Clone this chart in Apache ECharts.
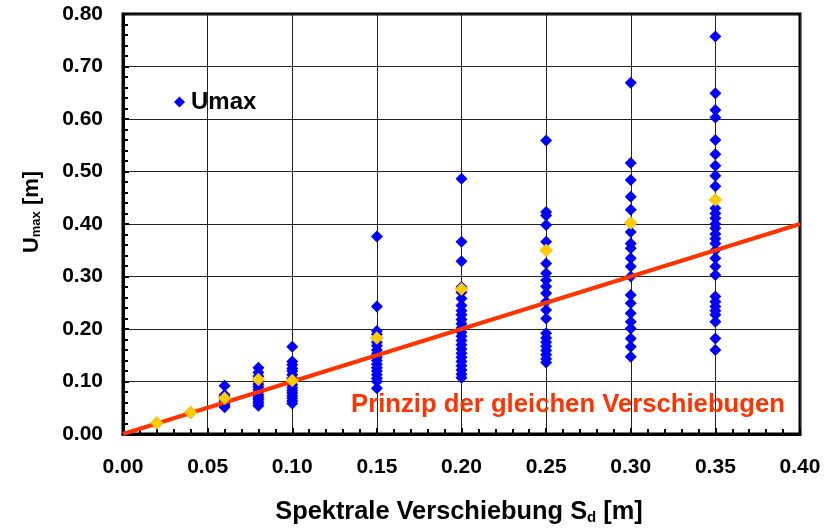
<!DOCTYPE html>
<html>
<head>
<meta charset="utf-8">
<script src="https://cdn.jsdelivr.net/npm/echarts@6/dist/echarts.min.js"></script>
<style>html,body{margin:0;padding:0;background:#fff;}#c{width:838px;height:530px;}</style>
</head>
<body>
<div id="c"></div>
<script>
// Sd values (x) of each column
const xCols = [0.02, 0.04, 0.06, 0.08, 0.10, 0.15, 0.20, 0.25, 0.30, 0.35];
// Umax values per column (blue points)
const u002 = [0.021];
const u004 = [0.041];
const u006 = [0.092, 0.075, 0.071, 0.067, 0.063, 0.060, 0.057, 0.054, 0.051];
const u008 = [0.126, 0.117, 0.110, 0.100, 0.095, 0.090, 0.085, 0.080, 0.075, 0.070, 0.066, 0.062, 0.058, 0.054];
const u010 = [0.166, 0.138, 0.132, 0.125, 0.120, 0.113, 0.106, 0.100, 0.094, 0.088, 0.083, 0.078, 0.073, 0.068, 0.063, 0.058];
const u015 = [0.376, 0.243, 0.196, 0.190, 0.182, 0.175, 0.168, 0.160, 0.153, 0.146, 0.140, 0.133, 0.126, 0.120, 0.113, 0.106, 0.100, 0.087];
const u020 = [0.486, 0.366, 0.329, 0.280, 0.270, 0.258, 0.245, 0.235, 0.227, 0.218, 0.210, 0.202, 0.194, 0.186, 0.178, 0.170, 0.162, 0.154, 0.146, 0.138, 0.130, 0.122, 0.114, 0.107];
const u025 = [0.559, 0.423, 0.416, 0.398, 0.366, 0.325, 0.306, 0.293, 0.281, 0.268, 0.252, 0.236, 0.220, 0.192, 0.183, 0.175, 0.167, 0.159, 0.151, 0.143, 0.136];
const u030 = [0.669, 0.516, 0.484, 0.452, 0.427, 0.385, 0.363, 0.354, 0.335, 0.319, 0.300, 0.265, 0.249, 0.230, 0.214, 0.201, 0.182, 0.166, 0.147];
const u035 = [0.757, 0.649, 0.617, 0.603, 0.560, 0.533, 0.511, 0.492, 0.472, 0.430, 0.420, 0.411, 0.400, 0.392, 0.381, 0.372, 0.363, 0.350, 0.335, 0.319, 0.303, 0.262, 0.252, 0.243, 0.235, 0.227, 0.214, 0.182, 0.160];
const uCols = [u002, u004, u006, u008, u010, u015, u020, u025, u030, u035];
// mean values (yellow points)
const uMean = [0.021, 0.041, 0.068, 0.104, 0.102, 0.183, 0.276, 0.350, 0.402, 0.446];
// equal displacement line
const lineX = [0.0, 0.4];
const lineY = [0.0, 0.4];

const bluePts = [];
xCols.forEach((x, i) => uCols[i].forEach(v => bluePts.push([x, v])));
const yellowPts = xCols.map((x, i) => [x, uMean[i]]);
const linePts = lineX.map((x, i) => [x, lineY[i]]);

const FONT = '"Liberation Sans", Arial, sans-serif';
const chart = echarts.init(document.getElementById('c'), null, {renderer: 'canvas'});
chart.setOption({
  animation: false,
  backgroundColor: '#fff',
  grid: {left: 123, right: 38, top: 14, bottom: 96, show: true, borderColor: '#000', borderWidth: 3},
  legend: {
    data: ['Umax'], left: 169, top: 85, icon: 'diamond', itemWidth: 11, itemHeight: 11,
    textStyle: {fontFamily: FONT, fontWeight: 'bold', fontSize: 24, color: '#000', padding: [0, 0, 0, 1]}
  },
  xAxis: {
    type: 'value', min: 0, max: 0.4, interval: 0.05,
    axisLine: {show: true, onZero: false, lineStyle: {color: '#000', width: 3}},
    axisTick: {show: true, inside: true, length: 6, lineStyle: {color: '#000', width: 2}},
    minorTick: {show: true, splitNumber: 5, length: 5, lineStyle: {color: '#000', width: 2}},
    splitLine: {show: true, lineStyle: {color: '#222', width: 1}},
    axisLabel: {margin: 23, fontFamily: FONT, fontWeight: 'bold', fontSize: 21, color: '#000',
      formatter: v => v.toFixed(2)}
  },
  yAxis: {
    type: 'value', min: 0, max: 0.8, interval: 0.1,
    axisLine: {show: true, onZero: false, lineStyle: {color: '#000', width: 3}},
    axisTick: {show: true, inside: true, length: 6, lineStyle: {color: '#000', width: 2}},
    minorTick: {show: true, splitNumber: 5, length: 5, lineStyle: {color: '#000', width: 2}},
    splitLine: {show: true, lineStyle: {color: '#222', width: 1}},
    axisLabel: {margin: 20, fontFamily: FONT, fontWeight: 'bold', fontSize: 21, color: '#000',
      formatter: v => v.toFixed(2)}
  },
  graphic: [
    {type: 'text', x: 351, y: 405, z: 10,
      style: {text: 'Prinzip der gleichen Verschiebugen', fill: '#ff3300', verticalAlign: 'middle', font: 'bold 25.7px ' + FONT}},
    {type: 'text', x: 459, y: 512, z: 10,
      style: {text: '{a|Spektrale Verschiebung S}{b|d}{a| [m]}', align: 'center', verticalAlign: 'middle',
        rich: {a: {font: 'bold 25.4px ' + FONT, fill: '#000'}, b: {font: 'bold 15px ' + FONT, fill: '#000', padding: [11, 0, 0, 0]}}}},
    {type: 'text', x: 32, y: 212, rotation: Math.PI / 2, z: 10,
      style: {text: '{a|U}{b|max}{a| [m]}', align: 'center', verticalAlign: 'middle',
        rich: {a: {font: 'bold 22px ' + FONT, fill: '#000'}, b: {font: 'bold 13px ' + FONT, fill: '#000', padding: [9, 0, 0, 0]}}}}
  ],
  series: [
    {name: 'Umax', type: 'scatter', data: bluePts, symbol: 'diamond', symbolSize: 12,
      itemStyle: {color: '#0000ff', opacity: 1}, z: 2},
    {name: 'line', type: 'line', data: linePts, symbol: 'none', lineStyle: {color: '#ff3300', width: 4}, z: 3},
    {name: 'mean', type: 'scatter', data: yellowPts, symbol: 'diamond', symbolSize: 13,
      itemStyle: {color: '#ffcc00', opacity: 1, borderColor: '#e0a800', borderWidth: 0.5}, z: 4}
  ]
});
</script>
</body>
</html>
